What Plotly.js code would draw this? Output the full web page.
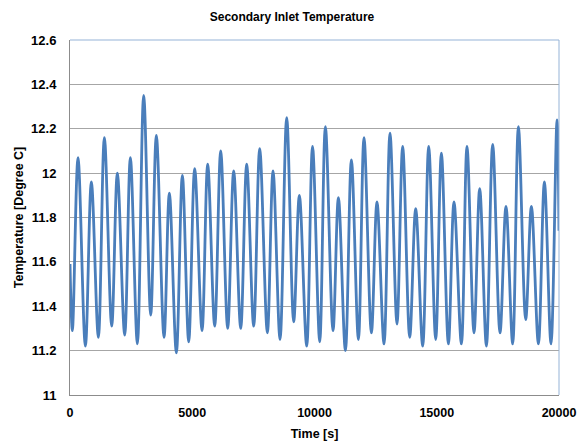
<!DOCTYPE html>
<html><head><meta charset="utf-8">
<script src="https://cdn.plot.ly/plotly-3.0.1.min.js"></script>
<style>html,body{margin:0;padding:0;background:#fff}#c{width:584px;height:443px}</style>
</head><body><div id="c"></div>
<script>
const timeS = [0,97,328,629,874,1160,1406,1706,1937,2237,2469,2755,3014,3301,3532,3846,4064,4350,4596,4855,5100,5400,5632,5918,6164,6450,6695,6982,7227,7513,7759,8072,8304,8590,8863,9149,9381,9681,9920,10213,10446,10757,10978,11264,11509,11796,12025,12327,12556,12843,13088,13374,13607,13894,14139,14425,14671,14957,15190,15476,15706,16008,16237,16524,16757,17031,17288,17587,17832,18106,18340,18638,18871,19158,19403,19673,19918,20000];
const tempC = [11.59,11.29,12.07,11.22,11.96,11.26,12.16,11.31,12.00,11.27,12.07,11.23,12.35,11.36,12.17,11.26,11.91,11.19,11.99,11.24,12.02,11.29,12.04,11.31,12.10,11.30,12.01,11.30,12.04,11.31,12.11,11.28,12.01,11.25,12.25,11.33,11.90,11.22,12.12,11.24,12.21,11.29,11.89,11.20,12.06,11.25,12.16,11.28,11.87,11.23,12.18,11.32,12.12,11.26,11.84,11.22,12.12,11.25,12.09,11.23,11.87,11.23,12.12,11.28,11.93,11.22,12.13,11.28,11.85,11.23,12.21,11.34,11.85,11.23,11.96,11.23,12.24,11.74];
const xTicks = [0,5000,10000,15000,20000];
const yTicks = [11,11.2,11.4,11.6,11.8,12,12.2,12.4,12.6];

const fam = 'Liberation Sans, Arial, sans-serif';
Plotly.newPlot('c',[{
  x:timeS, y:tempC, type:'scatter', mode:'lines',
  line:{color:'#4A7EBB', width:2.8, shape:'spline', smoothing:1}
}],{
  width:584, height:443,
  margin:{l:70,r:25,t:40,b:48},
  paper_bgcolor:'#fff', plot_bgcolor:'#fff',
  showlegend:false,
  title:{text:'<b>Secondary Inlet Temperature</b>', x:0.5, xanchor:'center', y:0.972, yanchor:'top', font:{family:fam,size:12,color:'#000'}},
  xaxis:{range:[0,20000], tickvals:xTicks, ticktext:xTicks.map(v=>'<b>'+v+'</b>'), showgrid:false, zeroline:false,
    showline:true, linecolor:'#8C8C8C', linewidth:1, ticks:'', ticklabelstandoff:6, tickfont:{family:fam,size:12.5,color:'#000'},
    title:{text:'<b>Time [s]</b>', font:{family:fam,size:12.5,color:'#000'}, standoff:10}},
  yaxis:{range:[11,12.6], tickvals:yTicks, ticktext:yTicks.map(v=>'<b>'+v+'</b>'), showgrid:true, gridcolor:'#A6A6A6', gridwidth:1, zeroline:false,
    showline:true, linecolor:'#8C8C8C', linewidth:1, ticks:'', ticklabelstandoff:10, tickfont:{family:fam,size:13,color:'#000'},
    title:{text:'<b>Temperature [Degree C]</b>', font:{family:fam,size:12.5,color:'#000'}, standoff:4}},
  shapes:[
    {type:'line', xref:'paper', yref:'paper', x0:0, x1:1, y0:1, y1:1, line:{color:'#95B3D7', width:1}},
    {type:'line', xref:'paper', yref:'paper', x0:1, x1:1, y0:0, y1:1, line:{color:'#95B3D7', width:1}}
  ]
},{displayModeBar:false, staticPlot:true});
</script></body></html>
